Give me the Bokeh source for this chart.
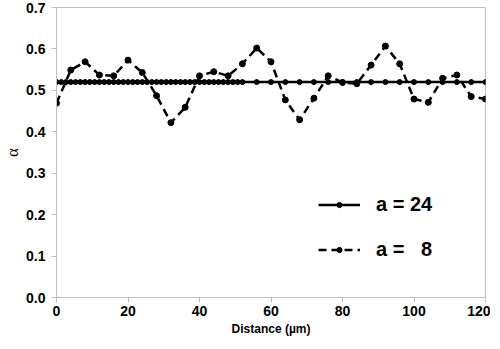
from bokeh.plotting import figure
from bokeh.models import Range1d, Legend, LegendItem, FixedTicker, NumeralTickFormatter
from bokeh.embed import file_html
from bokeh.resources import INLINE

# a = 24 series (dense sampling up to ~52 µm, then every 4 µm)
x24 = [0, 1.33, 2.67, 4, 5.33, 6.67, 8, 9.33, 10.67, 12, 13.33, 14.67, 16, 17.33, 18.67,
       20, 21.33, 22.67, 24, 25.33, 26.67, 28, 29.33, 30.67, 32, 33.33, 34.67, 36, 37.33,
       38.67, 40, 41.33, 42.67, 44, 45.33, 46.67, 48, 49.33, 50.67, 52,
       56, 60, 64, 68, 72, 76, 80, 84, 88, 92, 96, 100, 104, 108, 112, 116, 120]
y24 = [0.52] * len(x24)

# a = 8 series
x8 = [0, 4, 8, 12, 16, 20, 24, 28, 32, 36, 40, 44, 48, 52, 56, 60,
      64, 68, 72, 76, 80, 84, 88, 92, 96, 100, 104, 108, 112, 116, 120]
y8 = [0.469, 0.549, 0.569, 0.537, 0.535, 0.573, 0.543, 0.487, 0.422, 0.459, 0.535,
      0.545, 0.535, 0.564, 0.602, 0.569, 0.477, 0.429, 0.481, 0.535, 0.519, 0.516,
      0.561, 0.607, 0.564, 0.479, 0.471, 0.529, 0.537, 0.485, 0.479]

x_ticks = [0, 20, 40, 60, 80, 100, 120]
y_ticks = [0.0, 0.1, 0.2, 0.3, 0.4, 0.5, 0.6, 0.7]

p = figure(width=490, height=338, output_backend="svg", toolbar_location=None,
           x_range=Range1d(0, 120), y_range=Range1d(0, 0.7))
p.min_border_left = 46
p.min_border_right = 5
p.min_border_top = 7
p.min_border_bottom = 40
p.xgrid.visible = False
p.ygrid.visible = False
p.outline_line_color = "#bfbfbf"
p.background_fill_color = "white"
p.border_fill_color = "white"

for ax in (p.xaxis[0], p.yaxis[0]):
    ax.axis_line_color = "#bfbfbf"
    ax.major_tick_line_color = "#bfbfbf"
    ax.major_tick_out = 5
    ax.major_tick_in = 0
    ax.minor_tick_line_color = None
    ax.major_label_text_font = "Liberation Sans"
    ax.major_label_text_font_style = "bold"
    ax.major_label_text_font_size = "14px"
    ax.major_label_text_color = "black"

p.xaxis.ticker = FixedTicker(ticks=x_ticks)
p.yaxis.ticker = FixedTicker(ticks=y_ticks)
p.yaxis.formatter = NumeralTickFormatter(format="0.0")
p.xaxis.major_label_standoff = 3
p.yaxis.major_label_standoff = 6

p.xaxis.axis_label = "Distance (µm)"
p.xaxis.axis_label_text_font = "Liberation Sans"
p.xaxis.axis_label_text_font_style = "bold"
p.xaxis.axis_label_text_font_size = "12px"
p.xaxis.axis_label_text_color = "black"
p.xaxis.axis_label_standoff = 3

p.yaxis.axis_label = "α"
p.yaxis.axis_label_text_font = "Liberation Serif"
p.yaxis.axis_label_text_font_style = "normal"
p.yaxis.axis_label_text_font_size = "17px"
p.yaxis.axis_label_text_color = "black"
p.yaxis.axis_label_standoff = 1

l8 = p.line(x8, y8, line_color="black", line_width=2.5, line_dash="8 5")
s8 = p.scatter(x8, y8, size=6, color="black")
l24 = p.line(x24, y24, line_color="black", line_width=2.5)
s24 = p.scatter(x24, y24, size=5, color="black")

legend = Legend(items=[LegendItem(label="a = 24", renderers=[l24, s24]),
                       LegendItem(label="a =   8", renderers=[l8, s8])],
                location=(262, 36))
legend.padding = 0
legend.margin = 0
legend.spacing = 22
legend.glyph_width = 42
legend.glyph_height = 13
legend.label_height = 20
legend.label_standoff = 16
legend.label_text_font = "Liberation Sans"
legend.label_text_font_style = "bold"
legend.label_text_font_size = "20px"
legend.label_text_color = "black"
legend.border_line_color = None
legend.background_fill_alpha = 0
p.add_layout(legend, "center")

open("out.html", "w").write(file_html(p, INLINE))
